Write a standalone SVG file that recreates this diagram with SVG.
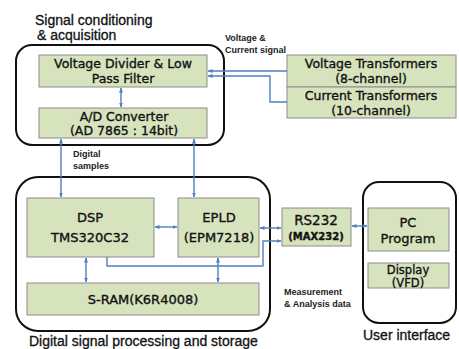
<svg xmlns="http://www.w3.org/2000/svg" width="459" height="349" viewBox="0 0 459 349">
<defs>
<marker id="ah" viewBox="0 0 10 10" refX="9" refY="5" markerWidth="5" markerHeight="5" orient="auto-start-reverse" markerUnits="userSpaceOnUse">
<path d="M0,1 L10,5 L0,9 z" fill="#4f81bd"/>
</marker>
</defs>
<style>
.cont{fill:#fff;stroke:#111;stroke-width:2}
.box{fill:#d7e3bd;stroke:#8c8c8c;stroke-width:1}
.bt{font-family:"DejaVu Sans","Liberation Sans",sans-serif;fill:#111;text-anchor:middle;stroke:#111;stroke-width:0.35}
.ttl{font-family:"Liberation Sans",Arial,sans-serif;font-size:14px;fill:#111;stroke:#111;stroke-width:0.3}
.sm{font-family:"Liberation Sans",Arial,sans-serif;font-size:9px;font-weight:bold;fill:#222}
.c{fill:none;stroke:#4f81bd;stroke-width:1.4}
.d{marker-start:url(#ah);marker-end:url(#ah)}
.e{marker-end:url(#ah)}
</style>
<rect width="459" height="349" fill="#fff"/>

<g id="containers">
<rect class="cont" x="16" y="45" width="208" height="100" rx="16"/>
<rect class="cont" x="16" y="177" width="254" height="154" rx="22"/>
<rect class="cont" x="363" y="182" width="93" height="141" rx="16"/>
</g>

<g id="titles">
<text class="ttl" x="35" y="25">Signal conditioning</text>
<text class="ttl" x="37" y="40">&amp; acquisition</text>
<text class="ttl" x="29" y="346">Digital signal processing and storage</text>
<text class="ttl" x="363" y="340">User interface</text>
</g>

<g id="vd">
<rect class="box" x="39" y="55" width="168" height="32"/>
<text class="bt" x="123" y="68" font-size="12.5">Voltage Divider &amp; Low</text>
<text class="bt" x="123" y="83" font-size="12.5">Pass Filter</text>
</g>
<g id="adc">
<rect class="box" x="39" y="108" width="168" height="30"/>
<text class="bt" x="124" y="121" font-size="12.5">A/D Converter</text>
<text class="bt" x="124" y="135" font-size="12.5">(AD 7865 : 14bit)</text>
</g>
<g id="vt">
<rect class="box" x="287" y="55" width="169" height="32"/>
<text class="bt" x="371" y="68" font-size="12.5">Voltage Transformers</text>
<text class="bt" x="371" y="83" font-size="12.5">(8-channel)</text>
</g>
<g id="ct">
<rect class="box" x="287" y="87" width="169" height="31"/>
<text class="bt" x="371" y="100" font-size="12.5">Current Transformers</text>
<text class="bt" x="371" y="115" font-size="12.5">(10-channel)</text>
</g>
<g id="dsp">
<rect class="box" x="27" y="198" width="127" height="59"/>
<text class="bt" x="90" y="222" font-size="13">DSP</text>
<text class="bt" x="90" y="242" font-size="13">TMS320C32</text>
</g>
<g id="epld">
<rect class="box" x="178" y="198" width="81" height="59"/>
<text class="bt" x="219" y="222" font-size="13">EPLD</text>
<text class="bt" x="219" y="242" font-size="13">(EPM7218)</text>
</g>
<g id="sram">
<rect class="box" x="27" y="283" width="232" height="32"/>
<text class="bt" x="143" y="304" font-size="13">S-RAM(K6R4008)</text>
</g>
<g id="rs232">
<rect class="box" x="282" y="208" width="69" height="38"/>
<text class="bt" x="316" y="225" font-size="13.5">RS232</text>
<text class="bt" x="316" y="240" font-size="10" font-weight="bold" stroke-width="0">(MAX232)</text>
</g>
<g id="pc">
<rect class="box" x="368" y="208" width="81" height="43"/>
<text class="bt" x="408" y="227" font-size="13">PC</text>
<text class="bt" x="408" y="243" font-size="13">Program</text>
</g>
<g id="display">
<rect class="box" x="368" y="263" width="81" height="25"/>
<text class="bt" x="408" y="274" font-size="11.5">Display</text>
<text class="bt" x="408" y="286.5" font-size="11.5">(VFD)</text>
</g>

<g id="labels">
<text class="sm" x="225" y="41">Voltage &amp;</text>
<text class="sm" x="225" y="53">Current  signal</text>
<text class="sm" x="73" y="157">Digital</text>
<text class="sm" x="73" y="169">samples</text>
<text class="sm" x="284" y="295">Measurement</text>
<text class="sm" x="284" y="307">&amp; Analysis data</text>
</g>

<g id="connectors">
<line class="c d" x1="121" y1="88" x2="121" y2="107"/>
<polyline class="c e" points="287,71 208,71"/>
<polyline class="c e" points="287,102 270,102 270,76 208,76"/>
<line class="c d" x1="61" y1="139" x2="61" y2="197"/>
<line class="c d" x1="194" y1="139" x2="194" y2="197"/>
<line class="c d" x1="155" y1="227" x2="177" y2="227"/>
<line class="c d" x1="86" y1="258" x2="86" y2="282"/>
<line class="c d" x1="218" y1="258" x2="218" y2="282"/>
<polyline class="c e" points="107,257 107,266 263,266 263,241 281,241"/>
<line class="c d" x1="260" y1="228" x2="281" y2="228"/>
<line class="c d" x1="352" y1="226" x2="367" y2="226"/>
</g>
</svg>
